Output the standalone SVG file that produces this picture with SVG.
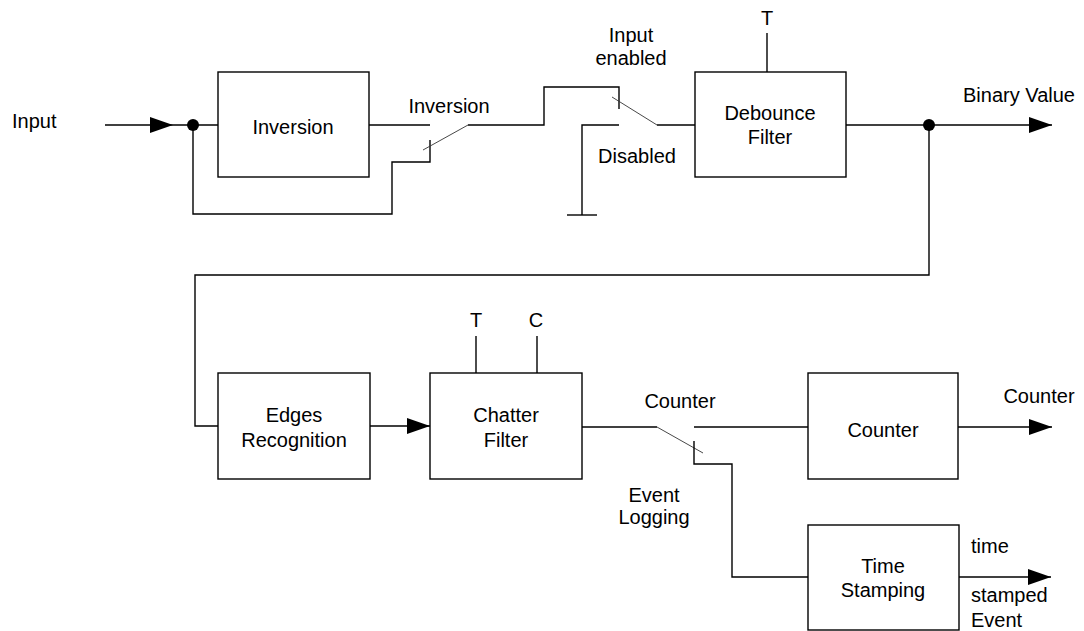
<svg xmlns="http://www.w3.org/2000/svg" width="1084" height="631" viewBox="0 0 1084 631">
<defs>
<style>
text{font-family:"Liberation Sans",Arial,sans-serif;font-size:20px;fill:#000}
.c{text-anchor:middle}
.box{fill:#fff;stroke:#000;stroke-width:1.4}
.w{fill:none;stroke:#000;stroke-width:1.4}
.arm{fill:none;stroke:#333;stroke-width:0.9}
</style>
<marker id="ah" markerWidth="23" markerHeight="16" refX="23" refY="8" orient="auto" markerUnits="userSpaceOnUse">
<path d="M0,0 L23,8 L0,16 Z" fill="#000"/>
</marker>
</defs>
<rect width="1084" height="631" fill="#fff"/>
<g id="connectors">
<line class="w" x1="105" y1="125" x2="173" y2="125" marker-end="url(#ah)"/>
<line class="w" x1="173" y1="125" x2="218" y2="125"/>
<polyline class="w" points="193,125 193,214 392,214 392,162 430,162 430,140"/>
<line class="w" x1="369" y1="125" x2="430" y2="125"/>
<line class="arm" x1="423" y1="150" x2="468" y2="125"/>
<polyline class="w" points="468,125 544,125 544,87 619,87 619,109"/>
<polyline class="w" points="619,125 582,125 582,215"/>
<line class="w" x1="567" y1="215" x2="597" y2="215"/>
<line class="arm" x1="612" y1="97" x2="657" y2="125"/>
<line class="w" x1="657" y1="125" x2="695" y2="125"/>
<line class="w" x1="767" y1="33" x2="767" y2="72"/>
<line class="w" x1="846" y1="125" x2="1052" y2="125" marker-end="url(#ah)"/>
<polyline class="w" points="929,125 929,275 195,275 195,426 218,426"/>
<line class="w" x1="370" y1="426" x2="430" y2="426" marker-end="url(#ah)"/>
<line class="w" x1="476" y1="336" x2="476" y2="373"/>
<line class="w" x1="537" y1="336" x2="537" y2="373"/>
<line class="w" x1="582" y1="427" x2="657" y2="427"/>
<line class="arm" x1="657" y1="427" x2="703" y2="453"/>
<line class="w" x1="694" y1="427" x2="808" y2="427"/>
<polyline class="w" points="694,441 694,464 732,464 732,577 808,577"/>
<line class="w" x1="958" y1="427" x2="1052" y2="427" marker-end="url(#ah)"/>
<line class="w" x1="959" y1="577" x2="1051" y2="577" marker-end="url(#ah)"/>
<circle cx="193" cy="125" r="6" fill="#000"/>
<circle cx="929" cy="125" r="6" fill="#000"/>
</g>
<g id="labels">
<text x="12" y="128">Input</text>
<text x="449" y="113" class="c">Inversion</text>
<text x="631" y="42" class="c">Input</text>
<text x="631" y="65" class="c">enabled</text>
<text x="637" y="163" class="c">Disabled</text>
<text x="767" y="25" class="c">T</text>
<text x="1019" y="102" class="c">Binary Value</text>
<text x="476" y="327" class="c">T</text>
<text x="536" y="327" class="c">C</text>
<text x="680" y="408" class="c">Counter</text>
<text x="1039" y="403" class="c">Counter</text>
<text x="654" y="502" class="c">Event</text>
<text x="654" y="524" class="c">Logging</text>
<text x="971" y="553">time</text>
<text x="971" y="602">stamped</text>
<text x="971" y="627">Event</text>
</g>
<g id="inversion">
<rect class="box" x="218" y="72" width="151" height="105"/>
<text x="293" y="134" class="c">Inversion</text>
</g>
<g id="debounce">
<rect class="box" x="695" y="72" width="151" height="105"/>
<text x="770" y="120" class="c">Debounce</text>
<text x="770" y="144" class="c">Filter</text>
</g>
<g id="edges">
<rect class="box" x="218" y="373" width="152" height="106"/>
<text x="294" y="422" class="c">Edges</text>
<text x="294" y="447" class="c">Recognition</text>
</g>
<g id="chatter">
<rect class="box" x="430" y="373" width="152" height="106"/>
<text x="506" y="422" class="c">Chatter</text>
<text x="506" y="447" class="c">Filter</text>
</g>
<g id="counter">
<rect class="box" x="808" y="373" width="150" height="106"/>
<text x="883" y="437" class="c">Counter</text>
</g>
<g id="timestamping">
<rect class="box" x="808" y="525" width="151" height="105"/>
<text x="883" y="573" class="c">Time</text>
<text x="883" y="597" class="c">Stamping</text>
</g>
</svg>
